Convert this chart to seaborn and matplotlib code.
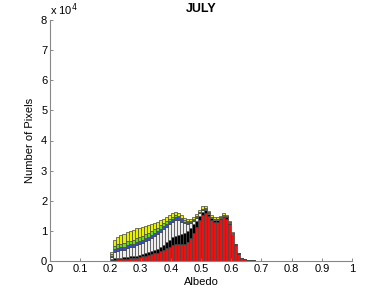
import numpy as np
import pandas as pd
import matplotlib
matplotlib.use('Agg')
import matplotlib.pyplot as plt
import seaborn as sns

# Albedo bins (left edges, width 0.01)
albedo = np.round(np.arange(0.20, 0.70, 0.01), 2)

# Pixel counts per layer, in units of 1e4
red = [0.02, 0.04, 0.05, 0.06, 0.07, 0.08, 0.09, 0.10, 0.11, 0.13,
       0.15, 0.17, 0.19, 0.22, 0.25, 0.28, 0.32, 0.36, 0.42, 0.48,
       0.53, 0.56, 0.57, 0.56, 0.57, 0.62, 0.75, 0.92, 1.12, 1.35,
       1.52, 1.58, 1.48, 1.35, 1.30, 1.30, 1.38, 1.45, 1.40, 1.22,
       0.88, 0.52, 0.24, 0.10, 0.05, 0.03, 0.02, 0.015, 0.01, 0.008]
black = [0.03, 0.05, 0.05, 0.05, 0.05, 0.06, 0.06, 0.06, 0.07, 0.07,
         0.08, 0.09, 0.10, 0.11, 0.12, 0.13, 0.15, 0.17, 0.20, 0.22,
         0.26, 0.28, 0.30, 0.33, 0.36, 0.38, 0.36, 0.30, 0.22, 0.16,
         0.12, 0.10, 0.08, 0.07, 0.06, 0.06, 0.05, 0.05, 0.05, 0.04,
         0.03, 0.02, 0.01, 0.005, 0.005, 0.004, 0.003, 0.003, 0.002, 0.002]
white = [0.08, 0.20, 0.22, 0.24, 0.26, 0.28, 0.30, 0.32, 0.34, 0.36,
         0.38, 0.40, 0.42, 0.44, 0.46, 0.48, 0.50, 0.52, 0.52, 0.52,
         0.52, 0.52, 0.48, 0.42, 0.32, 0.24, 0.16, 0.12, 0.10, 0.08,
         0.06, 0.05, 0.04, 0.03, 0.03, 0.03, 0.02, 0.02, 0.02, 0.02,
         0.01, 0.005, 0.005, 0.003, 0.002, 0.002, 0.001, 0.001, 0.001, 0.001]
blue = [0.05, 0.10, 0.10, 0.10, 0.10, 0.10, 0.10, 0.10, 0.10, 0.10,
        0.10, 0.10, 0.10, 0.10, 0.10, 0.10, 0.10, 0.10, 0.10, 0.10,
        0.10, 0.10, 0.10, 0.08, 0.06, 0.04, 0.03, 0.02, 0.02, 0.02,
        0.02, 0.01, 0.01, 0.01, 0.01, 0.01, 0.01, 0.01, 0.01, 0.005,
        0.005, 0.003, 0.002, 0.001, 0.001, 0.0, 0.0, 0.0, 0.0, 0.0]
green = [0.05, 0.12, 0.13, 0.13, 0.13, 0.13, 0.13, 0.13, 0.13, 0.13,
         0.13, 0.13, 0.13, 0.12, 0.12, 0.12, 0.11, 0.10, 0.08, 0.07,
         0.06, 0.055, 0.05, 0.045, 0.04, 0.035, 0.03, 0.025, 0.02, 0.02,
         0.02, 0.015, 0.01, 0.01, 0.01, 0.01, 0.01, 0.01, 0.005, 0.005,
         0.003, 0.002, 0.001, 0.0, 0.0, 0.0, 0.0, 0.0, 0.0, 0.0]
yellow = [0.07, 0.20, 0.25, 0.28, 0.30, 0.32, 0.33, 0.33, 0.33, 0.32,
          0.30, 0.28, 0.26, 0.24, 0.22, 0.20, 0.18, 0.16, 0.14, 0.13,
          0.12, 0.11, 0.10, 0.10, 0.09, 0.08, 0.08, 0.08, 0.07, 0.07,
          0.07, 0.06, 0.05, 0.05, 0.04, 0.04, 0.04, 0.04, 0.03, 0.03,
          0.02, 0.02, 0.01, 0.005, 0.003, 0.002, 0.001, 0.001, 0.0, 0.0]

layers = {'red': red, 'black': black, 'white': white,
          'blue': blue, 'green': green, 'yellow': yellow}
colors = {'red': '#ee1111', 'black': '#000000', 'white': '#eeeeee',
          'blue': '#2f4fd8', 'green': '#66dd11', 'yellow': '#e6f000'}

rows = []
for name, vals in layers.items():
    for a, v in zip(albedo, vals):
        rows.append({'albedo': a + 0.005, 'count': v * 1e4, 'layer': name})
df = pd.DataFrame(rows)

plt.rcParams['font.family'] = ['Liberation Sans', 'DejaVu Sans']
fig = plt.figure(figsize=(3.91, 2.94), dpi=100)
ax = fig.add_axes([50 / 391, 33 / 294, 302 / 391, 241 / 294])

sns.histplot(data=df, x='albedo', weights='count', hue='layer',
             hue_order=list(layers.keys())[::-1], palette=colors,
             multiple='stack', binwidth=0.01, binrange=(0.2, 0.7),
             alpha=1, edgecolor='#444444', linewidth=0.5, legend=False, ax=ax)

ax.set_xlim(0, 1)
ax.set_ylim(0, 8e4)
ax.set_xticks(np.arange(0, 1.01, 0.1))
ax.set_xticklabels(['0', '0.1', '0.2', '0.3', '0.4', '0.5', '0.6', '0.7', '0.8', '0.9', '1'])
ax.set_yticks(np.arange(0, 8.1, 1) * 1e4)
ax.set_yticklabels([str(i) for i in range(9)])
ax.tick_params(direction='in', length=2, width=0.6, labelsize=8, colors='#777777',
               labelcolor='black', pad=2)
for s in ['top', 'right']:
    ax.spines[s].set_visible(False)
for s in ['left', 'bottom']:
    ax.spines[s].set_color('#888888')
    ax.spines[s].set_linewidth(0.8)

ax.set_xlabel('Albedo', fontsize=8, labelpad=2)
ax.set_ylabel('Number of Pixels', fontsize=8, labelpad=4)
ax.set_title('JULY', fontsize=9, fontweight='bold', pad=6)
ax.text(0.0, 1.01, r'x 10$^4$', transform=ax.transAxes, fontsize=8, ha='left', va='bottom')

fig.savefig('out.png', dpi=100)
